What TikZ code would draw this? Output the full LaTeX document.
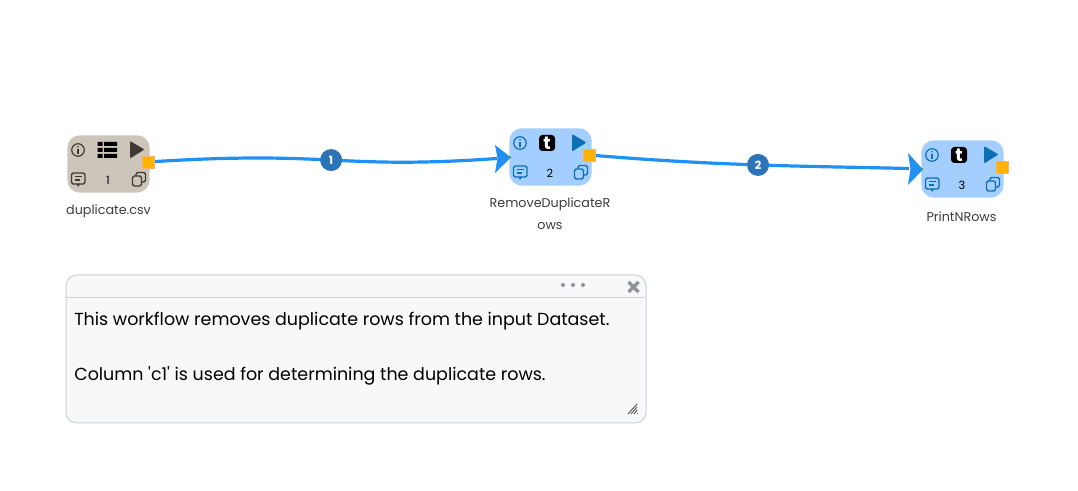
\documentclass[tikz,border=0pt]{standalone}
\usepackage{fontspec}
\setmainfont{Poppins}
\newfontfamily\panelfont{Poppins}
\usetikzlibrary{arrows.meta,bending}
\definecolor{edgeblue}{HTML}{2090F5}
\definecolor{badgeblue}{HTML}{2C74B8}
\definecolor{boxblue}{HTML}{A3CEFD}
\definecolor{boxtan}{HTML}{CCC6BA}
\definecolor{icoblue}{HTML}{0F6FB4}
\definecolor{icodark}{HTML}{3E3A36}
\definecolor{portorange}{HTML}{FFB300}
\definecolor{portgreen}{HTML}{5E9A3A}
\definecolor{panelfill}{HTML}{F7F8FA}
\definecolor{panelline}{HTML}{CDD1D6}
\definecolor{panelgrey}{HTML}{8F9296}
\definecolor{labelgrey}{HTML}{3C3C3C}
\tikzset{
  x=0.75pt,y=-0.75pt,
  wfbox/.style={draw=none,rounded corners=9.5pt,minimum width=61.8pt,minimum height=43pt,inner sep=0pt,anchor=north west},
  wfport/.style={fill=portorange,draw=portorange!70!red!60,line width=0.4pt,minimum size=9pt,inner sep=0pt},
  wfname/.style={text=labelgrey,font=\fontsize{9.55pt}{16.2pt}\selectfont,align=center,inner sep=0pt},
  wfnum/.style={font=\fontsize{8.5pt}{11pt}\selectfont,inner sep=0pt},
  wfedge/.style={draw=edgeblue,line width=2.4pt},
  wfbadge/.style={circle,fill=badgeblue,text=white,minimum size=16.5pt,inner sep=0pt,font=\fontsize{8.5pt}{10pt}\selectfont\bfseries},
  paneltext/.style={anchor=west,inner sep=0pt,text=black,font=\panelfont\fontsize{13.1pt}{17pt}\selectfont}
}
% #1 name, #2 x, #3 y, #4 fill, #5 icon colour, #6 number, #7 centre icon (0 list, 1 t)
\newcommand{\wfnode}[7]{%
  \node[wfbox,fill=#4] (#1) at (#2,#3) {};
  \begin{scope}[shift={(#2,#3)},x=0.75pt,y=-0.75pt]
    % info
    \draw[#5,line width=0.9pt] (11,15) circle[radius=4.7pt];
    \fill[#5] (11,11.8) circle[radius=0.7pt];
    \draw[#5,line width=0.9pt] (11,14.2) -- (11,19);
    % centre
    \ifnum#7=0
      \fill[black] (30.5,7) rectangle (35.5,11) (37,7) rectangle (50,11)
                   (30.5,13) rectangle (35.5,17) (37,13) rectangle (50,17)
                   (30.5,19) rectangle (35.5,23) (37,19) rectangle (50,23);
    \else
      \fill[black,rounded corners=2.5pt] (30,7) rectangle (46,23);
      \node[text=white,inner sep=0pt,font=\fontsize{13.5pt}{13.5pt}\selectfont\bfseries] at (38,15) {t};
    \fi
    % play
    \fill[#5,rounded corners=0.8pt] (63,6) -- (77.5,14.5) -- (63,23.5) -- cycle;
    % comment
    \draw[#5,line width=1pt,rounded corners=1.2pt] (4.5,38) rectangle (18,49);
    \draw[#5,line width=1pt] (7.5,41.5) -- (15,41.5) (7.5,45) -- (12.5,45);
    \fill[#5] (9.5,49) -- (13,49) -- (11,52) -- cycle;
    % number
    \node[wfnum,text=black] at (41,45.5) {#6};
    % copy
    \draw[#5,line width=1pt,rounded corners=1.2pt] (69,37.5) rectangle (78.5,47);
    \fill[#4] (64,41) rectangle (74.5,52);
    \draw[#5,line width=1pt,rounded corners=1.2pt] (65.5,41) rectangle (74.5,51);
  \end{scope}
}
\begin{document}
\begin{tikzpicture}
\useasboundingbox (0,0) rectangle (1078,491);
\fill[white] (0,0) rectangle (1078,491);

\wfnode{src}{67}{135}{boxtan}{icodark}{1}{0}
\wfnode{dedup}{509}{128}{boxblue}{icoblue}{2}{1}
\wfnode{print}{921}{140}{boxblue}{icoblue}{3}{1}

\node[wfname] (srcname) at (108.5,211) {duplicate.csv};
\node[wfname] (dedupname) at (550,214) {RemoveDuplicateR\\ows};
\node[wfname] (printname) at (961.5,216.5) {PrintNRows};

\coordinate (dedupin) at (511,157.5);
\coordinate (printin) at (923,169.5);

\draw[wfedge] (148,162) .. controls (334,150) and (334,170) .. (497,158.5)
  node[wfbadge,pos=0.5] (b1) {1};
\draw[wfedge] (589,155) .. controls (720,166) and (802,166) .. (909,168.5)
  node[wfbadge,pos=0.5] (b2) {2};

\fill[edgeblue] (dedupin) -- (495,145) -- (497.5,158) -- (495,173) -- cycle;
\fill[edgeblue] (printin) -- (908,153) -- (910.5,169) -- (908,185) -- cycle;
\fill[portgreen] (509,156.5) rectangle (511,158.5);
\fill[portgreen] (921,168.5) rectangle (923,170.5);

\node[wfport] (srcport) at (148,162) {};
\node[wfport] (dedupport) at (589,155) {};
\node[wfport] (printport) at (1002,167) {};

% note panel
\node[draw=panelline,fill=panelfill,line width=0.75pt,rounded corners=8pt,minimum width=435pt,minimum height=111pt,inner sep=0pt,anchor=north west] (panel) at (65.5,274.5) {};
\draw[panelline,line width=0.75pt] (66,298) -- (645,298);
\fill[panelgrey] (563,285) circle[radius=1.5pt] (573,285) circle[radius=1.5pt] (583,285) circle[radius=1.5pt];
\draw[panelgrey,line width=2.6pt] (628.5,282) -- (638.5,292) (638.5,282) -- (628.5,292);
\foreach \k in {0,3,6,9}{\draw[panelgrey!60!black,line width=0.7pt] (637,404+\k) -- (628+\k,414);}
\node[paneltext] (line1) at (74,321.5) {This workflow removes duplicate rows from the input Dataset.};
\node[paneltext] (line2) at (74,375.5) {Column 'c1' is used for determining the duplicate rows.};
\end{tikzpicture}
\end{document}
